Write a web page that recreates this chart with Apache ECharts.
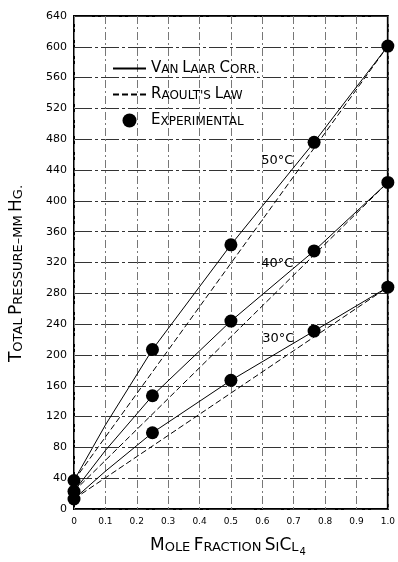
<!DOCTYPE html>
<html>
<head>
<meta charset="utf-8">
<script src="https://cdn.jsdelivr.net/npm/echarts@6/dist/echarts.min.js"></script>
<style>
html,body{margin:0;padding:0;background:#fff;}
#c{width:398px;height:562px;}
</style>
</head>
<body>
<div id="c"></div>
<script>
// ---- data ----
const xTickLabels = ['0','0.1','0.2','0.3','0.4','0.5','0.6','0.7','0.8','0.9','1.0'];

const expX  = [0, 0.25, 0.5, 0.765, 1.0];
const exp50 = [37, 207, 343, 476, 601];
const exp40 = [23, 147, 244, 335, 424];
const exp30 = [13, 99, 167, 231, 288];

const vanLaarX  = [0, 0.1, 0.25, 0.5, 0.765, 1.0];
const vanLaar50 = [37, 109, 207, 343, 476, 601];
const vanLaar40 = [23, 76, 147, 244, 335, 424];
const vanLaar30 = [13, 49, 99, 167, 231, 288];

const raoultX  = [0, 1.0];
const raoult50 = [37, 601];
const raoult40 = [23, 424];
const raoult30 = [13, 288];

const tempNames = ['50°C', '40°C', '30°C'];
const tempAnchorX = [0.648, 0.648, 0.651];
const tempAnchorY = [452, 319, 221];

// ---- build ----
const pairs = (xs, ys) => xs.map((x, i) => [x, ys[i]]);
const FONT = 'DejaVu Sans';
const VL = 'VAN LAAR CORR.', RL = "RAOULT'S LAW", EX = 'EXPERIMENTAL';

const solid = ys => ({
  name: VL, type: 'line', data: pairs(vanLaarX, ys), symbol: 'none', color: '#000',
  smooth: false,
  lineStyle: { color: '#000', width: 1, type: 'solid' }, z: 3
});
const dashed = ys => ({
  name: RL, type: 'line', data: pairs(raoultX, ys), symbol: 'none', color: '#000',
  lineStyle: { color: '#000', width: 1, type: [6, 3] }, z: 3
});

const expData = [].concat(pairs(expX, exp50), pairs(expX, exp40), pairs(expX, exp30));
const tempData = tempNames.map((n, i) => ({ name: n, value: [tempAnchorX[i], tempAnchorY[i]] }));

const richSC = {
  b: { fontFamily: FONT, fontSize: 15, color: '#000', verticalAlign: 'bottom' },
  s: { fontFamily: FONT, fontSize: 12, color: '#000', verticalAlign: 'bottom' }
};
const legendText = {};
legendText[VL] = '{b|V}{s|AN} {b|L}{s|AAR} {b|C}{s|ORR.}';
legendText[RL] = "{b|R}{s|AOULT'S} {b|L}{s|AW}";
legendText[EX] = '{b|E}{s|XPERIMENTAL}';

const chart = echarts.init(document.getElementById('c'), null, { renderer: 'canvas' });
chart.setOption({
  animation: false,
  backgroundColor: '#fff',
  grid: { left: 70, right: 10, top: 16, bottom: 46, show: true, borderColor: '#000', borderWidth: 2, backgroundColor: 'transparent' },
  legend: {
    data: [
      { name: VL, itemStyle: { opacity: 0 } },
      { name: RL, itemStyle: { opacity: 0 } },
      { name: EX, itemStyle: { color: '#000', opacity: 1 } }
    ],
    orient: 'vertical',
    left: 107, top: 56,
    itemWidth: 33, itemHeight: 14, itemGap: 11,
    formatter: n => legendText[n],
    textStyle: { rich: richSC, fontFamily: FONT }
  },
  xAxis: {
    type: 'value', min: 0, max: 1, interval: 0.1,
    axisLine: { show: false },
    axisTick: { show: false },
    axisLabel: {
      margin: 8, color: '#000', fontFamily: FONT, fontSize: 9,
      formatter: v => xTickLabels[Math.round(v * 10)]
    },
    splitLine: { show: true, lineStyle: { color: '#777', width: 1, type: [8, 3, 2, 3] } },
    name: '{b|M}{s|OLE} {b|F}{s|RACTION} {b|S}{s|I}{b|C}{s|L}{sub|4}',
    nameLocation: 'middle', nameGap: 28,
    nameTextStyle: {
      padding: [0, 6, 0, 0],
      rich: {
        b: { fontFamily: FONT, fontSize: 17, color: '#000', verticalAlign: 'bottom' },
        s: { fontFamily: FONT, fontSize: 13, color: '#000', verticalAlign: 'bottom' },
        sub: { fontFamily: FONT, fontSize: 10, color: '#000', verticalAlign: 'bottom', padding: [0, 0, -3, 1] }
      }
    }
  },
  yAxis: {
    type: 'value', min: 0, max: 640, interval: 40,
    axisLine: { show: false },
    axisTick: { show: false },
    axisLabel: { margin: 7, color: '#000', fontFamily: FONT, fontSize: 11 },
    splitLine: { show: true, lineStyle: { color: '#333', width: 1, type: [18, 3, 3, 3] } },
    name: '{b|T}{s|OTAL} {b|P}{s|RESSURE–MM} {b|H}{s|G.}',
    nameLocation: 'middle', nameGap: 49,
    nameTextStyle: {
      padding: [0, 22, 0, 0],
      rich: {
        b: { fontFamily: FONT, fontSize: 17, color: '#000', verticalAlign: 'bottom' },
        s: { fontFamily: FONT, fontSize: 13, color: '#000', verticalAlign: 'bottom' }
      }
    }
  },
  series: [
    solid(vanLaar50), solid(vanLaar40), solid(vanLaar30),
    dashed(raoult50), dashed(raoult40), dashed(raoult30),
    {
      name: EX, type: 'scatter', data: expData, symbol: 'circle', symbolSize: 13,
      itemStyle: { color: '#000', opacity: 1 }, z: 5
    },
    {
      name: 'temps', type: 'scatter', data: tempData, symbolSize: 0, silent: true,
      itemStyle: { opacity: 1 },
      label: { show: true, position: 'inside', formatter: p => p.name,
               fontFamily: FONT, fontSize: 13, color: '#000' },
      z: 6
    }
  ]
});
</script>
</body>
</html>
